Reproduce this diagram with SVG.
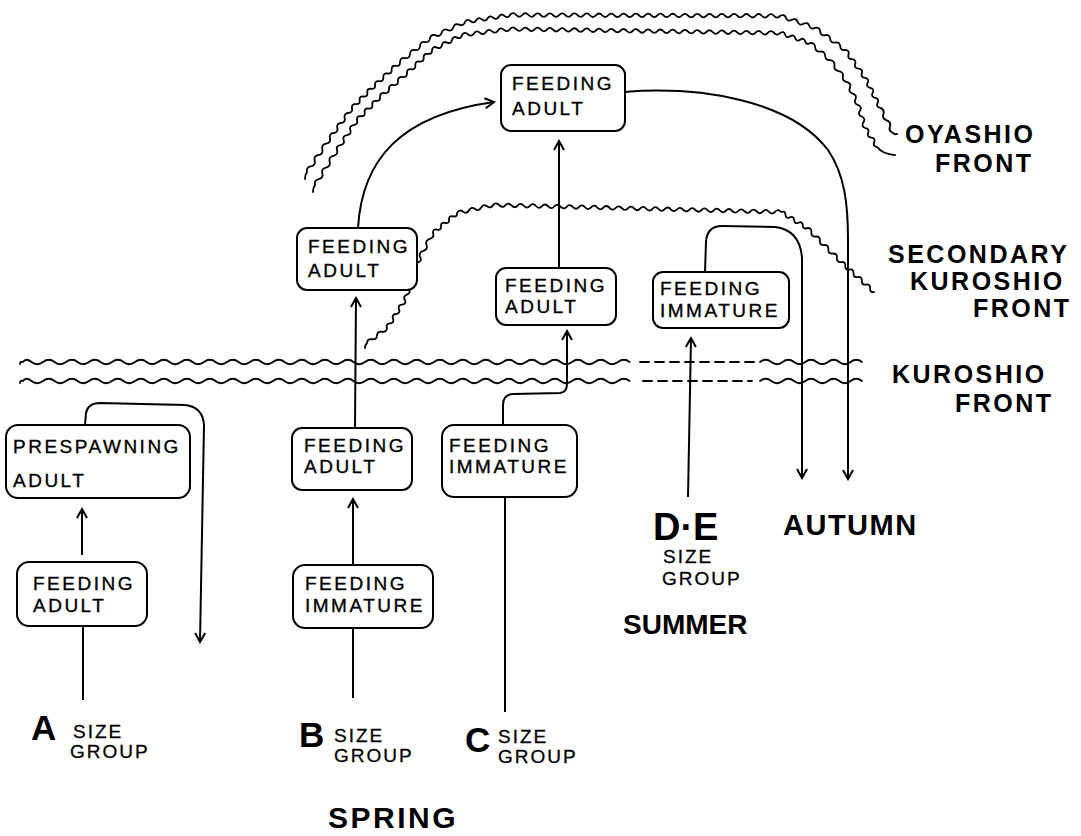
<svg xmlns="http://www.w3.org/2000/svg" width="1081" height="836" viewBox="0 0 1081 836">
<defs>
<marker id="ah" viewBox="0 0 12 12" refX="10" refY="6" markerWidth="12" markerHeight="12" markerUnits="userSpaceOnUse" orient="auto">
<path d="M1,1 L10,6 L1,11" fill="none" stroke="#000" stroke-width="2"/>
</marker>
<style>
.box{fill:#fff;stroke:#000;stroke-width:2}
.nt{font-family:"Liberation Sans",Arial,sans-serif;font-size:19px;letter-spacing:2.5px;fill:#000;stroke:#000;stroke-width:0.35}
.ln{fill:none;stroke:#000;stroke-width:2}
.fr{fill:none;stroke:#000;stroke-width:1.8;stroke-linejoin:round;stroke-linecap:round}
.dash{stroke-dasharray:9 6}
.lb{font-family:"Liberation Sans",Arial,sans-serif;font-weight:bold;font-size:25px;letter-spacing:2.5px;fill:#000}
.big{font-family:"Liberation Sans",Arial,sans-serif;font-weight:bold;fill:#000}
.sg{font-family:"Liberation Sans",Arial,sans-serif;font-size:19px;letter-spacing:2px;fill:#000;stroke:#000;stroke-width:0.3}
</style>
</defs>
<rect width="1081" height="836" fill="#fff"/>

<g id="fronts">
<path class="fr" d="M305,179 q0,-4 2,-7 q-0.98,-4.79 3.83,-5.67 t3.83,-5.67 3.83,-5.67 3.83,-5.67 3.83,-5.67 3.83,-5.67 q-0.99,-4.57 3.67,-5 t3.67,-5 3.67,-5 3.67,-5 3.67,-5 3.67,-5 q-0.56,-4.39 3.83,-3.83 t3.83,-3.83 3.83,-3.83 3.83,-3.83 3.83,-3.83 3.83,-3.83 q-0.29,-4.49 4.17,-3.83 t4.17,-3.83 4.17,-3.83 4.17,-3.83 4.17,-3.83 4.17,-3.83 q0.31,-4.73 5,-4 t5,-4 5,-4 5,-4 5,-4 5,-4 q1.46,-4.52 5.83,-2.67 t5.83,-2.67 5.83,-2.67 5.83,-2.67 5.83,-2.67 5.83,-2.67 q2.27,-3.9 5.63,-0.88 t5.63,-0.88 5.63,-0.88 5.63,-0.88 5.63,-0.88 5.63,-0.88 5.63,-0.88 5.63,-0.88 q3.07,-3.49 6.14,0.02 t6.14,0.02 6.14,0.02 6.14,0.02 6.14,0.02 6.14,0.02 6.14,0.02 6.14,0.02 6.14,0.02 6.14,0.02 6.14,0.02 6.14,0.02 6.14,0.02 6.14,0.02 6.14,0.02 6.14,0.02 6.14,0.02 6.14,0.02 6.14,0.02 6.14,0.02 6.14,0.02 6.14,0.02 6.14,0.02 6.14,0.02 6.14,0.02 6.14,0.02 6.14,0.02 6.14,0.02 6.14,0.02 6.14,0.02 6.14,0.02 6.14,0.02 6.14,0.02 6.14,0.02 6.14,0.02 6.14,0.02 6.14,0.02 6.14,0.02 6.14,0.02 6.14,0.02 6.14,0.02 6.14,0.02 6.14,0.02 6.14,0.02 q4.05,-2.31 5.83,2 t5.83,2 5.83,2 5.83,2 5.83,2 5.83,2 q4.57,-0.99 5,3.67 t5,3.67 5,3.67 5,3.67 5,3.67 5,3.67 q4.52,0.3 3.33,4.67 t3.33,4.67 3.33,4.67 3.33,4.67 3.33,4.67 3.33,4.67 q4.38,0.93 2.5,5 t2.5,5 2.5,5 2.5,5 2.5,5 2.5,5 q4.73,1.51 3.25,6.25 t3.25,6.25 3.25,6.25 3.25,6.25 q1,2 4,1"/>
<path class="fr" d="M313,192 q0,-4 2,-7 q-1.13,-4.78 3.67,-5.83 t3.67,-5.83 3.67,-5.83 3.67,-5.83 3.67,-5.83 3.67,-5.83 q-1.24,-4.44 3.33,-5 t3.33,-5 3.33,-5 3.33,-5 3.33,-5 3.33,-5 q-0.56,-4.39 3.83,-3.83 t3.83,-3.83 3.83,-3.83 3.83,-3.83 3.83,-3.83 3.83,-3.83 q-0.08,-4.62 4.5,-4 t4.5,-4 4.5,-4 4.5,-4 4.5,-4 4.5,-4 q-0.29,-4.49 4.17,-3.83 t4.17,-3.83 4.17,-3.83 4.17,-3.83 4.17,-3.83 4.17,-3.83 q0.93,-4.38 5,-2.5 t5,-2.5 5,-2.5 5,-2.5 5,-2.5 5,-2.5 q2.57,-3.85 6,-0.75 t6,-0.75 6,-0.75 6,-0.75 6,-0.75 6,-0.75 6,-0.75 6,-0.75 q3.07,-3.45 6.14,0.09 t6.14,0.09 6.14,0.09 6.14,0.09 6.14,0.09 6.14,0.09 6.14,0.09 6.14,0.09 6.14,0.09 6.14,0.09 6.14,0.09 6.14,0.09 6.14,0.09 6.14,0.09 6.14,0.09 6.14,0.09 6.14,0.09 6.14,0.09 6.14,0.09 6.14,0.09 6.14,0.09 6.14,0.09 6.14,0.09 6.14,0.09 6.14,0.09 6.14,0.09 6.14,0.09 6.14,0.09 6.14,0.09 6.14,0.09 6.14,0.09 6.14,0.09 6.14,0.09 6.14,0.09 6.14,0.09 6.14,0.09 6.14,0.09 6.14,0.09 6.14,0.09 6.14,0.09 6.14,0.09 6.14,0.09 6.14,0.09 6.14,0.09 q3.61,-2.49 5,1.67 t5,1.67 5,1.67 5,1.67 5,1.67 5,1.67 q4.77,-0.54 5,4.25 t5,4.25 5,4.25 5,4.25 q4.9,0.61 4.25,5.5 t4.25,5.5 4.25,5.5 4.25,5.5 q4.53,1.37 2.75,5.75 t2.75,5.75 2.75,5.75 2.75,5.75 q4.23,1.86 1.75,5.75 t1.75,5.75 1.75,5.75 1.75,5.75 q4.46,0.51 3,4.75 t3,4.75 3,4.75 3,4.75 q5,7 18,8"/>
<path class="fr" d="M365,348 q0,-3 2,-5 q0.4,-4.68 5,-3.75 t5,-3.75 5,-3.75 5,-3.75 q-1.44,-4.22 3,-4.67 t3,-4.67 3,-4.67 3,-4.67 3,-4.67 3,-4.67 q-2.37,-3.84 1.88,-5.38 t1.88,-5.38 1.88,-5.38 1.88,-5.38 1.88,-5.38 1.88,-5.38 1.88,-5.38 1.88,-5.38 q-1.45,-4.67 3.25,-6 t3.25,-6 3.25,-6 3.25,-6 q-0.24,-4.36 4,-3.33 t4,-3.33 4,-3.33 4,-3.33 4,-3.33 4,-3.33 q2.24,-4.08 6,-1.33 t6,-1.33 6,-1.33 6,-1.33 6,-1.33 6,-1.33 q3.06,-3.43 6.13,0.15 t6.13,0.15 6.13,0.15 6.13,0.15 6.13,0.15 6.13,0.15 6.13,0.15 6.13,0.15 6.13,0.15 6.13,0.15 6.13,0.15 6.13,0.15 6.13,0.15 6.13,0.15 6.13,0.15 6.13,0.15 6.13,0.15 6.13,0.15 6.13,0.15 6.13,0.15 6.13,0.15 6.13,0.15 6.13,0.15 6.13,0.15 6.13,0.15 6.13,0.15 6.13,0.15 6.13,0.15 6.13,0.15 6.13,0.15 6.13,0.15 6.13,0.15 6.13,0.15 6.13,0.15 6.13,0.15 6.13,0.15 6.13,0.15 6.13,0.15 6.13,0.15 6.13,0.15 6.13,0.15 6.13,0.15 6.13,0.15 6.13,0.15 6.13,0.15 6.13,0.15 6.13,0.15 q4,-1.65 4.33,2.67 t4.33,2.67 4.33,2.67 4.33,2.67 4.33,2.67 4.33,2.67 q4.6,-0.35 4.25,4.25 t4.25,4.25 4.25,4.25 4.25,4.25 4.25,4.25 4.25,4.25 4.25,4.25 4.25,4.25 q4.42,-0.72 4.13,3.75 t4.13,3.75 4.13,3.75 4.13,3.75 4.13,3.75 4.13,3.75 4.13,3.75 4.13,3.75"/>
<path class="fr" d="M20,364 q0,-3 3,-2 q3,-4.5 8.5,0 t11.5,0 11.5,0 11.5,0 11.5,0 11.5,0 11.5,0 11.5,0 11.5,0 11.5,0 11.5,0 11.5,0 11.5,0 11.5,0 11.5,0 11.5,0 11.5,0 11.5,0 11.5,0 11.5,0 11.5,0 11.5,0 11.5,0 11.5,0 11.5,0 11.5,0 11.5,0 11.5,0 11.5,0 11.5,0 11.5,0 11.5,0 11.5,0 11.5,0 11.5,0 11.5,0 11.5,0 11.5,0 11.5,0 11.5,0 11.5,0 11.5,0 11.5,0 11.5,0 11.5,0 11.5,0 11.5,0 11.5,0 11.5,0 11.5,0 11.5,0 11.5,0 11.5,0"/>
<path class="fr" d="M760,362 q5.67,-4.5 11.33,0 t11.33,0 11.33,0 11.33,0 11.33,0 11.33,0 11.33,0 11.33,0 11.33,0"/>
<path class="fr dash" d="M640,362 L758,362"/>
<path class="fr" d="M20,383 q0,-3 3,-2 q3,-4.5 8.5,0 t11.5,0 11.5,0 11.5,0 11.5,0 11.5,0 11.5,0 11.5,0 11.5,0 11.5,0 11.5,0 11.5,0 11.5,0 11.5,0 11.5,0 11.5,0 11.5,0 11.5,0 11.5,0 11.5,0 11.5,0 11.5,0 11.5,0 11.5,0 11.5,0 11.5,0 11.5,0 11.5,0 11.5,0 11.5,0 11.5,0 11.5,0 11.5,0 11.5,0 11.5,0 11.5,0 11.5,0 11.5,0 11.5,0 11.5,0 11.5,0 11.5,0 11.5,0 11.5,0 11.5,0 11.5,0 11.5,0 11.5,0 11.5,0 11.5,0 11.5,0 11.5,0 11.5,0"/>
<path class="fr" d="M760,381 q5.67,-4.5 11.33,0 t11.33,0 11.33,0 11.33,0 11.33,0 11.33,0 11.33,0 11.33,0 11.33,0"/>
<path class="fr dash" d="M643,381 L752,381"/>
</g>

<g id="connectors">
<path class="ln" d="M83,700 L83,626"/>
<path class="ln" d="M82,555 L82,509" marker-end="url(#ah)"/>
<path class="ln" d="M85,425 L86,413 Q88,403 100,403 L185,405 Q203,407 204,425 L200,642" marker-end="url(#ah)"/>
<path class="ln" d="M353,698 L353,628"/>
<path class="ln" d="M353,565 L353,499" marker-end="url(#ah)"/>
<path class="ln" d="M355,428 L356,298" marker-end="url(#ah)"/>
<path class="ln" d="M358,228 C362,160 400,115 494,102" marker-end="url(#ah)"/>
<path class="ln" d="M505,712 L505,497"/>
<path class="ln" d="M503,425 L503,405 Q503,394 514,394 L560,393 Q567,392 567,384 L567,331" marker-end="url(#ah)"/>
<path class="ln" d="M559,268 L559,141" marker-end="url(#ah)"/>
<path class="ln" d="M624,92 C700,86 790,100 828,150 C845,175 848,205 848,240 L848,479" marker-end="url(#ah)"/>
<path class="ln" d="M688,497 L691,338" marker-end="url(#ah)"/>
<path class="ln" d="M705,272 L706,242 Q707,226 722,226 L775,227 Q800,230 802,258 L802,478" marker-end="url(#ah)"/>
</g>

<g id="n_top"><rect class="box" x="501" y="65" width="124" height="66" rx="10"/><text class="nt" x="512" y="90">FEEDING</text><text class="nt" x="512" y="115">ADULT</text></g>
<g id="n_b3"><rect class="box" x="297" y="228" width="120" height="62" rx="10"/><text class="nt" x="308" y="253">FEEDING</text><text class="nt" x="308" y="277">ADULT</text></g>
<g id="n_c2"><rect class="box" x="496" y="268" width="120" height="57" rx="10"/><text class="nt" x="505" y="292">FEEDING</text><text class="nt" x="505" y="313">ADULT</text></g>
<g id="n_de"><rect class="box" x="653" y="272" width="136" height="56" rx="10"/><text class="nt" x="660" y="295">FEEDING</text><text class="nt" x="660" y="317">IMMATURE</text></g>
<g id="n_pre"><rect class="box" x="6" y="425" width="184" height="73" rx="12"/><text class="nt" x="13" y="453">PRESPAWNING</text><text class="nt" x="13" y="487">ADULT</text></g>
<g id="n_b2"><rect class="box" x="292" y="428" width="120" height="62" rx="10"/><text class="nt" x="304" y="452">FEEDING</text><text class="nt" x="304" y="473">ADULT</text></g>
<g id="n_c1"><rect class="box" x="442" y="425" width="135" height="72" rx="12"/><text class="nt" x="449" y="452">FEEDING</text><text class="nt" x="449" y="473">IMMATURE</text></g>
<g id="n_a"><rect class="box" x="17" y="562" width="130" height="64" rx="12"/><text class="nt" x="33" y="590">FEEDING</text><text class="nt" x="33" y="612">ADULT</text></g>
<g id="n_b1"><rect class="box" x="293" y="565" width="140" height="63" rx="12"/><text class="nt" x="305" y="590">FEEDING</text><text class="nt" x="305" y="612">IMMATURE</text></g>

<g id="labels">
<text class="lb" x="905" y="143">OYASHIO</text>
<text class="lb" x="935" y="172">FRONT</text>
<text class="lb" x="888" y="263">SECONDARY</text>
<text class="lb" x="910" y="290">KUROSHIO</text>
<text class="lb" x="973" y="317">FRONT</text>
<text class="lb" x="892" y="383">KUROSHIO</text>
<text class="lb" x="955" y="412">FRONT</text>
<text class="big" x="31" y="740" font-size="35">A</text>
<text class="sg" x="73" y="738">SIZE</text>
<text class="sg" x="70" y="758">GROUP</text>
<text class="big" x="299" y="747" font-size="35">B</text>
<text class="sg" x="334" y="742">SIZE</text>
<text class="sg" x="334" y="762">GROUP</text>
<text class="big" x="465" y="752" font-size="35">C</text>
<text class="sg" x="498" y="743">SIZE</text>
<text class="sg" x="498" y="763">GROUP</text>
<text class="big" x="653" y="540" font-size="38">D·E</text>
<text class="sg" x="663" y="563">SIZE</text>
<text class="sg" x="662" y="585">GROUP</text>
<text class="big" x="783" y="535" font-size="29" letter-spacing="1.5">AUTUMN</text>
<text class="big" x="623" y="634" font-size="28">SUMMER</text>
<text class="big" x="328" y="828" font-size="30" letter-spacing="2.5">SPRING</text>
</g>
</svg>
